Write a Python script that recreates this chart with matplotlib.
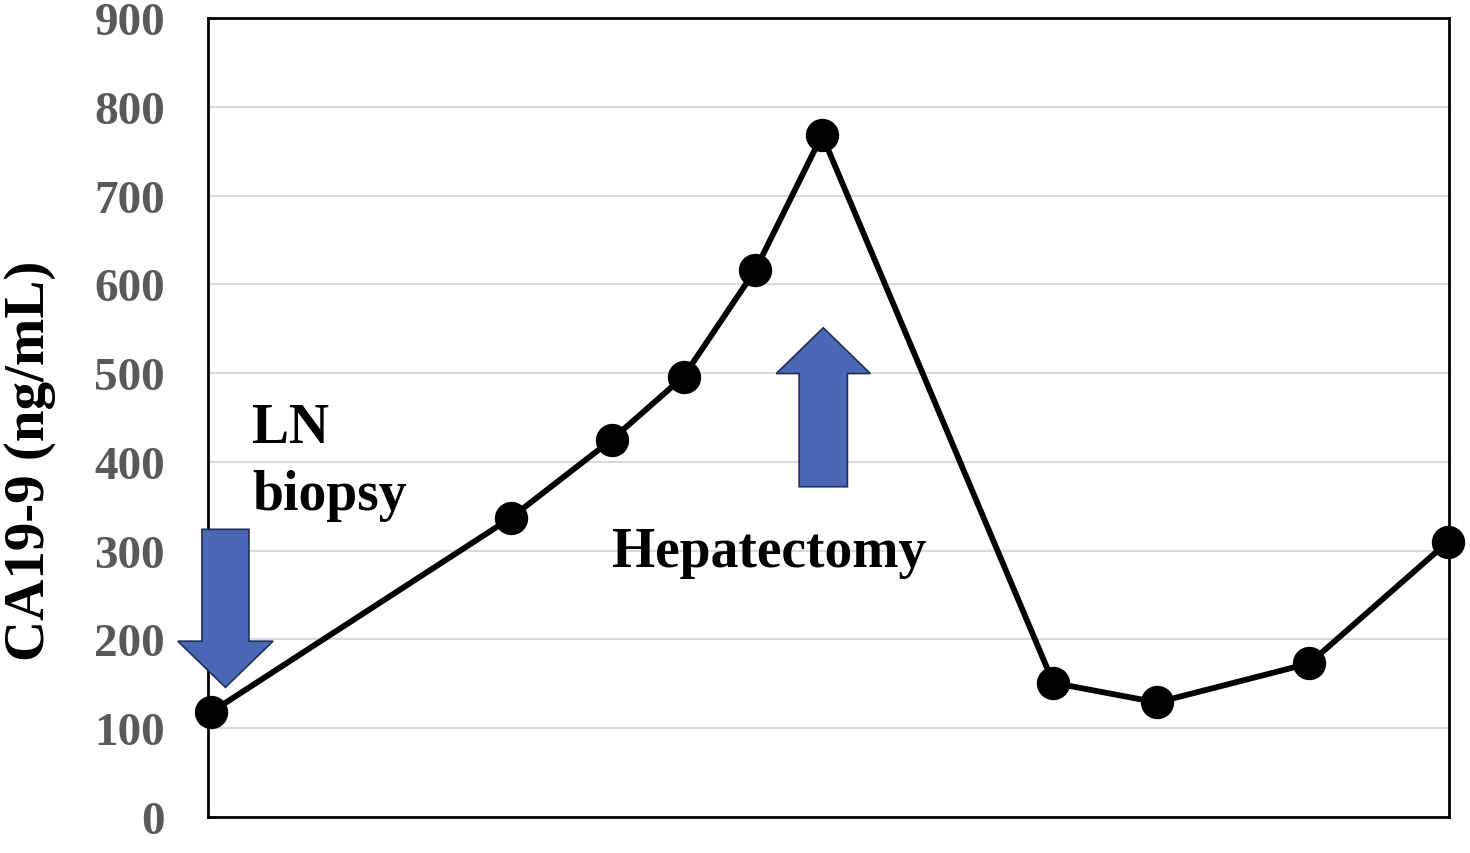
import matplotlib
matplotlib.use("Agg")
import matplotlib.pyplot as plt
from matplotlib.patches import FancyArrow

# data (relative time, CA19-9 ng/mL)
time_pts = [0, 24.25, 32.4, 38.2, 44.0, 49.4, 68.1, 76.5, 88.8, 100]
ca199 = [118, 337, 425, 496, 616, 768, 151, 129, 173, 310]
yticks = [0, 100, 200, 300, 400, 500, 600, 700, 800, 900]

plt.rcParams['font.family'] = ['Liberation Serif', 'DejaVu Serif']
plt.rcParams['font.weight'] = 'bold'

fig = plt.figure(figsize=(14.7, 8.54), dpi=100)
ax = fig.add_axes([0.1415, 0.0422, 0.8442, 0.9356])

ax.set_xlim(-0.24, 100.08)
ax.set_ylim(0, 900)
ax.set_yticks(yticks)
ax.set_yticklabels([str(v) for v in yticks], fontsize=34, fontweight='bold', color='#595959')
ax.set_xticks([])
ax.tick_params(axis='y', length=0, pad=31)
ax.yaxis.grid(True, color='#d9d9d9', linewidth=1.5)
ax.set_axisbelow(True)
for s in ax.spines.values():
    s.set_linewidth(2)
    s.set_color('black')

ax.plot(time_pts, ca199, color='black', linewidth=4.2, marker='o', markersize=23,
        markerfacecolor='black', markeredgecolor='black', clip_on=False, zorder=5)

ax.set_ylabel('CA19-9 (ng/mL)', fontsize=41, fontweight='bold')
ax.yaxis.set_label_coords(-0.1225, 0.4475)

blue = '#4a68b5'
edge = '#1f2f5a'
a1 = FancyArrow(1.17, 324, 0, -178, width=3.8, head_width=7.7, head_length=52,
                length_includes_head=True, facecolor=blue, edgecolor=edge,
                linewidth=1.2, zorder=4)
a1.set_clip_on(False)
ax.add_patch(a1)
a2 = FancyArrow(49.5, 372, 0, 179, width=3.9, head_width=7.6, head_length=51.5,
                length_includes_head=True, facecolor=blue, edgecolor=edge,
                linewidth=1.2, zorder=4)
a2.set_clip_on(False)
ax.add_patch(a2)

ax.text(3.3, 422, 'LN', fontsize=40, fontweight='bold', ha='left', va='baseline')
ax.text(3.3, 347, 'biopsy', fontsize=40, fontweight='bold', ha='left', va='baseline')
ax.text(32.4, 283, 'Hepatectomy', fontsize=40, fontweight='bold', ha='left', va='baseline')

fig.savefig('out.png', dpi=100)
